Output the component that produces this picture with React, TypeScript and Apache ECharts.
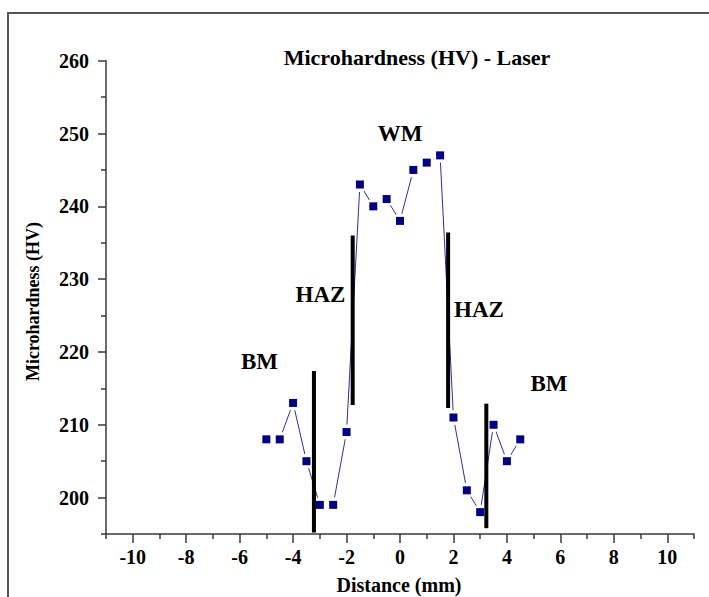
import React, { useEffect, useRef } from "react";
import * as echarts from "echarts";

// ---- data ----
const distance = [-5, -4.5, -4, -3.5, -3, -2.5, -2, -1.5, -1, -0.5, 0, 0.5, 1, 1.5, 2, 2.5, 3, 3.5, 4, 4.5];
const hardness = [208, 208, 213, 205, 199, 199, 209, 243, 240, 241, 238, 245, 246, 247, 211, 201, 198, 210, 205, 208];

// zone boundary bars: x position, lower value, upper value
const boundaryX = [-3.22, -1.77, 1.8, 3.23];
const boundaryLow = [195.2, 212.7, 212.3, 195.8];
const boundaryHigh = [217.4, 236.0, 236.4, 212.9];

const xMajorTicks = [-10, -8, -6, -4, -2, 0, 2, 4, 6, 8, 10];
const xMinorTicks = [-11, -9, -7, -5, -3, -1, 1, 3, 5, 7, 9, 11];
const yMajorTicks = [200, 210, 220, 230, 240, 250, 260];
const yMinorTicks = [195, 205, 215, 225, 235, 245, 255];

const zoneLabels = ["BM", "HAZ", "WM", "HAZ", "BM"];

const TITLE = "Microhardness (HV) - Laser";
const X_NAME = "Distance (mm)";
const Y_NAME = "Microhardness (HV)";

const FONT = '"Liberation Serif", "Times New Roman", serif';

export default function App() {
  const ref = useRef<HTMLDivElement>(null);
  useEffect(() => {
    if (!ref.current) return;
    const chart = echarts.init(ref.current, undefined, { renderer: "svg" });
    const points = distance.map((d, i) => [d, hardness[i]]);
    const axisColor = "#3a3a3a";
    const labelStyle = {
      fontFamily: FONT,
      fontWeight: "bold" as const,
      fontSize: 20,
      color: "#000",
    };
    const gridBox = { left: 106, right: 15, top: 60.7, bottom: 63 };

    const barSeries = boundaryX.map((x, i) => ({
      type: "line" as const,
      xAxisIndex: 0,
      yAxisIndex: 0,
      data: [
        [x, boundaryLow[i]],
        [x, boundaryHigh[i]],
      ],
      symbol: "none",
      lineStyle: { color: "#000", width: 4, cap: "butt" as const },
      z: 6,
      silent: true,
    }));

    const labelPos = [
      [259.5, 361],
      [320.5, 294],
      [400, 133],
      [479, 309],
      [549, 383],
    ];

    chart.setOption({
      animation: false,
      backgroundColor: "#fff",
      title: {
        text: TITLE,
        left: 412,
        top: 41,
        textAlign: "center",
        textStyle: { fontFamily: FONT, fontWeight: "bold", fontSize: 22, color: "#000" },
      },
      grid: [
        { ...gridBox },
        { ...gridBox },
      ],
      xAxis: [
        {
          type: "value",
          gridIndex: 0,
          min: -11,
          max: 11,
          axisLine: { show: true, onZero: false, lineStyle: { color: axisColor, width: 1.5 } },
          axisTick: { show: true, length: 9, customValues: xMajorTicks, lineStyle: { color: axisColor, width: 1.5 } },
          axisLabel: { ...labelStyle, margin: 13, customValues: xMajorTicks, formatter: (v: number) => String(v) },
          splitLine: { show: false },
        },
        {
          type: "value",
          gridIndex: 1,
          min: -11,
          max: 11,
          axisLine: { show: false, onZero: false },
          axisTick: { show: true, length: 5, customValues: xMinorTicks, lineStyle: { color: axisColor, width: 1.5 } },
          axisLabel: { show: false },
          splitLine: { show: false },
        },
      ],
      yAxis: [
        {
          type: "value",
          gridIndex: 0,
          min: 195,
          max: 260,
          axisLine: { show: true, onZero: false, lineStyle: { color: axisColor, width: 1.5 } },
          axisTick: { show: true, length: 8, customValues: yMajorTicks, lineStyle: { color: axisColor, width: 1.5 } },
          axisLabel: { ...labelStyle, margin: 17, customValues: yMajorTicks },
          splitLine: { show: false },
        },
        {
          type: "value",
          gridIndex: 1,
          min: 195,
          max: 260,
          axisLine: { show: false, onZero: false },
          axisTick: { show: true, length: 5, customValues: yMinorTicks, lineStyle: { color: axisColor, width: 1.5 } },
          axisLabel: { show: false },
          splitLine: { show: false },
        },
      ],
      series: [
        {
          type: "line",
          xAxisIndex: 0,
          yAxisIndex: 0,
          data: points,
          symbol: "none",
          lineStyle: { color: "#2e2ea0", width: 1 },
          z: 2,
          silent: true,
        },
        {
          type: "scatter",
          xAxisIndex: 0,
          yAxisIndex: 0,
          data: points,
          symbol: "circle",
          symbolSize: 15,
          itemStyle: { color: "#fff", opacity: 1 },
          z: 3,
          silent: true,
        },
        {
          type: "scatter",
          xAxisIndex: 0,
          yAxisIndex: 0,
          data: points,
          symbol: "rect",
          symbolSize: 8,
          itemStyle: { color: "#000080", opacity: 1 },
          z: 4,
          silent: true,
        },
        ...barSeries,
      ],
      graphic: [
        {
          type: "rect",
          shape: { x: 8, y: 13, width: 760, height: 640 },
          style: { fill: "none", stroke: "#555", lineWidth: 2 },
          silent: true,
        },
        ...zoneLabels.map((t, i) => ({
          type: "text",
          x: labelPos[i][0],
          y: labelPos[i][1],
          style: {
            text: t,
            font: `bold 23px ${FONT}`,
            fill: "#000",
            textAlign: "center",
            textVerticalAlign: "middle",
          },
          silent: true,
        })),
        {
          type: "text",
          x: 399,
          y: 585,
          style: {
            text: X_NAME,
            font: `bold 20px ${FONT}`,
            fill: "#000",
            textAlign: "center",
            textVerticalAlign: "middle",
          },
          silent: true,
        },
        {
          type: "text",
          x: 33,
          y: 301.5,
          rotation: Math.PI / 2,
          style: {
            text: Y_NAME,
            font: `bold 18px ${FONT}`,
            fill: "#000",
            textAlign: "center",
            textVerticalAlign: "middle",
          },
          silent: true,
        },
      ],
    });
    return () => chart.dispose();
  }, []);
  return (
    <div
      ref={ref}
      style={{ position: "fixed", left: 0, top: 0, width: 709, height: 597, background: "#fff" }}
    />
  );
}
